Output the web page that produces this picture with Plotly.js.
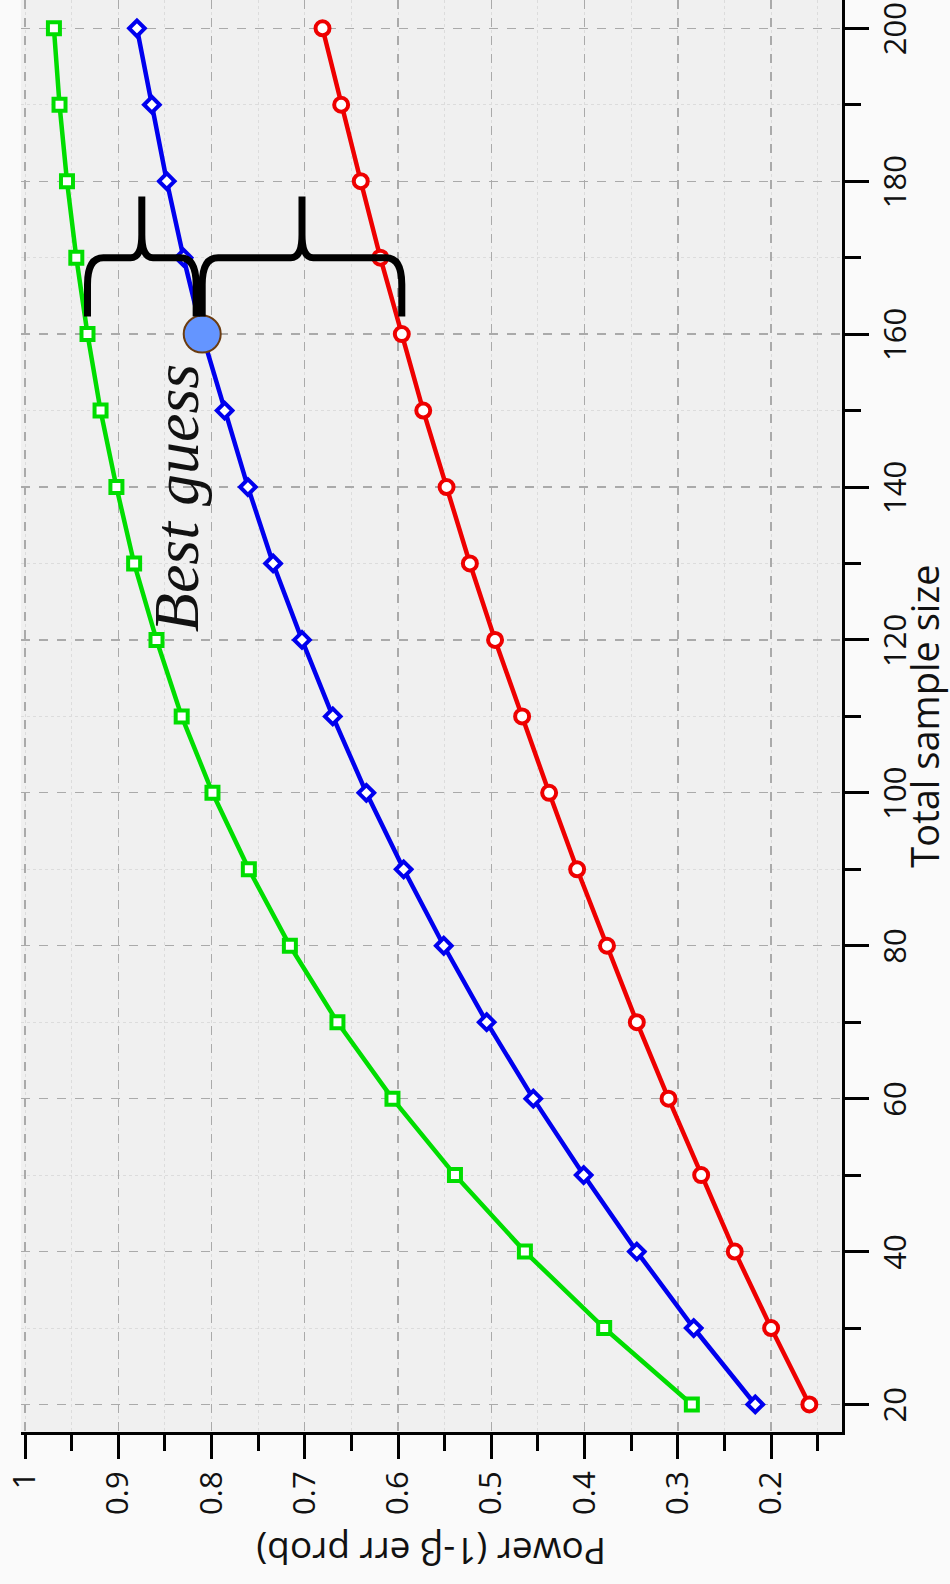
<!DOCTYPE html>
<html>
<head>
<meta charset="utf-8">
<script src="https://cdn.plot.ly/plotly-3.0.1.min.js"></script>
<style>
  html, body { margin: 0; padding: 0; background: #fafafa; }
  #chart { width: 950px; height: 1584px; }
</style>
</head>
<body>
<div id="chart"></div>
<script>
// Total sample size (drawn on the vertical axis)
const sampleSizes = [20, 30, 40, 50, 60, 70, 80, 90, 100, 110, 120, 130, 140, 150, 160, 170, 180, 190, 200];

// Power (1-β) for three effect sizes
const powerHigh = [0.285, 0.379, 0.464, 0.539, 0.606, 0.665, 0.716, 0.760, 0.799, 0.832, 0.859, 0.883, 0.902, 0.919, 0.933, 0.945, 0.955, 0.963, 0.969];
const powerMid  = [0.217, 0.283, 0.344, 0.401, 0.455, 0.505, 0.551, 0.594, 0.634, 0.670, 0.703, 0.734, 0.761, 0.786, 0.810, 0.830, 0.848, 0.864, 0.880];
const powerLow  = [0.159, 0.200, 0.239, 0.275, 0.310, 0.344, 0.376, 0.408, 0.438, 0.467, 0.496, 0.523, 0.548, 0.573, 0.596, 0.619, 0.640, 0.661, 0.681];

// Power axis tick values and labels
const powerTicks  = [0.2, 0.3, 0.4, 0.5, 0.6, 0.7, 0.8, 0.9, 1];
const powerLabels = ['0.2', '0.3', '0.4', '0.5', '0.6', '0.7', '0.8', '0.9', '1'];

// Planned sample size marked as the best guess
const bestGuessN = 160;
const guessIdx = sampleSizes.indexOf(bestGuessN);
const bestGuessPower = powerMid[guessIdx];

const sansFont = 'Open Sans, Noto Sans, DejaVu Sans, sans-serif';

function curve(power, color, symbol, size) {
  return {
    type: 'scatter', mode: 'lines+markers',
    x: power, y: sampleSizes,
    line: { color: color, width: 4.5 },
    marker: { symbol: symbol, size: size, color: '#ffffff', line: { color: color, width: 4 } },
    hoverinfo: 'x+y'
  };
}

const traces = [
  curve(powerHigh, '#00dd00', 'square', 12),
  curve(powerMid, '#0000ee', 'diamond', 12),
  curve(powerLow, '#ee0000', 'circle', 14),
  {
    type: 'scatter', mode: 'markers',
    x: [bestGuessPower], y: [bestGuessN],
    marker: { symbol: 'circle', size: 37, color: '#6495ff', line: { color: '#6b3c10', width: 2 } },
    hoverinfo: 'x+y'
  }
];

// Curly brace spanning two power values, tip pointing toward larger samples
function bracePath(pa, pb) {
  const sEnd = 162.3, sBar = 170, sTip = 178;
  const dCorner = 0.017, sCorner = 3.5, dTip = 0.012, sTipCurve = 3;
  const pm = (pa + pb) / 2;
  return 'M' + pa + ',' + sEnd +
    ' L' + pa + ',' + (sBar - sCorner) +
    ' Q' + pa + ',' + sBar + ' ' + (pa - dCorner) + ',' + sBar +
    ' L' + (pm + dTip) + ',' + sBar +
    ' Q' + pm + ',' + sBar + ' ' + pm + ',' + (sBar + sTipCurve) +
    ' L' + pm + ',' + sTip +
    ' L' + pm + ',' + (sBar + sTipCurve) +
    ' Q' + pm + ',' + sBar + ' ' + (pm - dTip) + ',' + sBar +
    ' L' + (pb + dCorner) + ',' + sBar +
    ' Q' + pb + ',' + sBar + ' ' + pb + ',' + (sBar - sCorner) +
    ' L' + pb + ',' + sEnd;
}

const braceStyle = { color: '#000000', width: 7 };

const layout = {
  width: 950, height: 1584,
  margin: { l: 21, r: 108, t: 0, b: 152, pad: 0 },
  paper_bgcolor: '#fafafa',
  plot_bgcolor: '#f0f0f0',
  showlegend: false,
  xaxis: {
    range: [1.0043, 0.124],
    tickmode: 'array', tickvals: powerTicks, ticktext: powerLabels,
    tickangle: -90,
    ticks: 'outside', ticklen: 24, tickwidth: 3, tickcolor: '#000',
    showline: true, linewidth: 3, linecolor: '#000',
    showgrid: true, gridcolor: '#aaaaaa', griddash: 'dash', gridwidth: 1.3,
    zeroline: false,
    ticklabeloverflow: 'allow',
    minor: { tickmode: 'linear', tick0: 0, dtick: 0.05, ticks: 'outside', ticklen: 16, tickwidth: 3, tickcolor: '#000',
             showgrid: true, gridcolor: '#dcdcdc', griddash: 'dot', gridwidth: 1 },
    tickfont: { family: sansFont, size: 31, color: '#111' }
  },
  yaxis: {
    range: [16.4, 203.7],
    side: 'right',
    tickmode: 'linear', tick0: 0, dtick: 20,
    tickangle: -90,
    ticks: 'outside', ticklen: 24, tickwidth: 3, tickcolor: '#000',
    showline: true, linewidth: 3, linecolor: '#000',
    showgrid: true, gridcolor: '#aaaaaa', griddash: 'dash', gridwidth: 1.3,
    zeroline: false,
    ticklabeloverflow: 'allow',
    ticklabelshift: 5,
    minor: { tickmode: 'linear', tick0: 0, dtick: 10, ticks: 'outside', ticklen: 16, tickwidth: 3, tickcolor: '#000',
             showgrid: true, gridcolor: '#dcdcdc', griddash: 'dot', gridwidth: 1 },
    tickfont: { family: sansFont, size: 31, color: '#111' },
    title: { text: 'Total sample size', font: { family: sansFont, size: 38, color: '#111' }, standoff: 8 }
  },
  shapes: [
    { type: 'path', xref: 'x', yref: 'y', layer: 'above', path: bracePath(powerHigh[guessIdx], bestGuessPower + 0.0065), line: braceStyle },
    { type: 'path', xref: 'x', yref: 'y', layer: 'above', path: bracePath(bestGuessPower, powerLow[guessIdx]), line: braceStyle }
  ],
  annotations: [
    {
      text: 'Power (1-β err prob)', xref: 'paper', yref: 'paper', x: 0.5, y: -0.0845,
      xanchor: 'center', yanchor: 'middle', textangle: 180, showarrow: false,
      font: { family: sansFont, size: 37, color: '#111' }
    },
    {
      text: 'Best guess', xref: 'x', yref: 'y', x: 0.8376, y: 138.6,
      xanchor: 'center', yanchor: 'middle', textangle: -90, showarrow: false,
      font: { family: 'Liberation Serif, Times New Roman, serif', size: 64, style: 'italic', color: '#111' }
    }
  ]
};

Plotly.newPlot('chart', traces, layout, { displayModeBar: false, staticPlot: true });
</script>
</body>
</html>
